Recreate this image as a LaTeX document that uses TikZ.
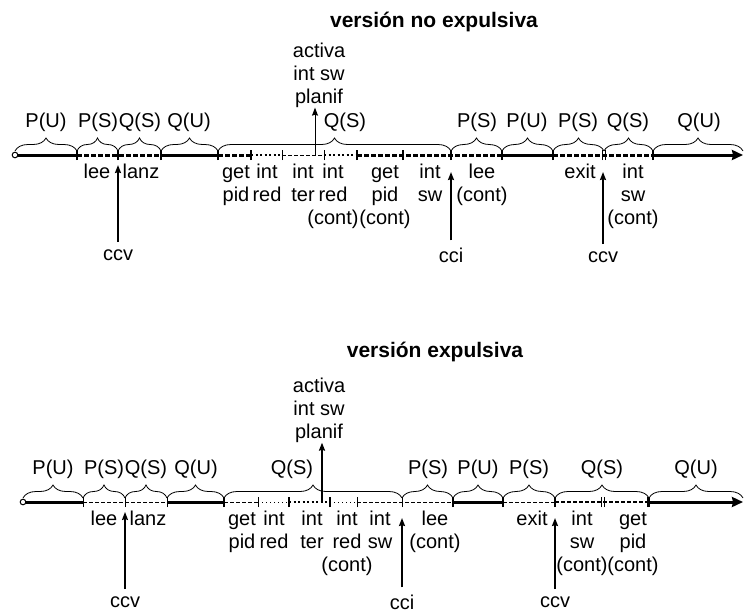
\documentclass[tikz,border=0pt]{standalone}
\usepackage{fontspec}
\setmainfont{Liberation Sans}
\usetikzlibrary{decorations.pathreplacing,arrows.meta}

\begin{document}
\begin{tikzpicture}[x=1pt,y=-1pt,
  lbl/.style={font=\fontsize{20}{23}\selectfont, inner sep=0pt, align=center},
  lowlbl/.style={lbl, anchor=north},
  toplbl/.style={lbl, anchor=base},
  ttl/.style={font=\fontsize{21}{24}\selectfont\bfseries, inner sep=0pt, anchor=base},
  brc/.style={decorate, decoration={brace, amplitude=13pt}, line width=0.8pt},
  solidseg/.style={line width=3pt},
  tdash/.style={line width=3pt, dash pattern=on 5pt off 2pt},
  mdash/.style={line width=1.6pt, dash pattern=on 4pt off 2pt},
  tdot/.style={line width=2.6pt, dash pattern=on 2pt off 2.5pt},
  thindash/.style={line width=0.7pt, dash pattern=on 4pt off 2pt},
  thindot/.style={line width=0.9pt, dash pattern=on 1pt off 3pt},
  tickmark/.style={line width=1.4pt},
  thintick/.style={line width=0.7pt},
  upar/.style={line width=1.8pt, -{Stealth[length=8pt,width=6pt,inset=1pt]}},
  evar/.style={upar, shorten <=7pt},
  endar/.style={line width=3pt, -{Stealth[length=11pt,width=10pt,inset=1pt]}},
]
\useasboundingbox (0,0) rectangle (744,614);

% ---------------- non-preemptive timeline ----------------
\node[ttl] (titleA) at (434,27) {versión no expulsiva};

\foreach \n/\x in {0/15,1/77,2/118,3/161,4/218,5/251,6/282,7/324,8/357,9/403,10/451,11/502,12/553,13/604,14/653,15/743}
  \coordinate (t\n) at (\x,155);

\draw[solidseg] (t0) -- (t1);
\draw[tdash] (t1) -- (t3);
\draw[solidseg] (t3) -- (t4);
\draw[tdash] (t4) -- (t5);
\draw[tdot] (t5) -- (t6);
\draw[thindash] (t6) -- (t7);
\draw[tdot] (t7) -- (t8);
\draw[tdash] (t8) -- (t11);
\draw[solidseg] (t11) -- (t12);
\draw[tdash] (t12) -- (t14);
\draw[endar] (t14) -- (t15);
\draw[line width=1pt, fill=white] (t0) circle (2.8pt);

\foreach \n in {1,2,3,4,5,8,9,10,11,12,14}
  \draw[tickmark] ([yshift=-5pt]t\n) -- ([yshift=5pt]t\n);
\foreach \n in {6,7}
  \draw[thintick] ([yshift=-5pt]t\n) -- ([yshift=5pt]t\n);
\draw[thintick] ([xshift=-1.5pt,yshift=-5pt]t13) -- ([xshift=-1.5pt,yshift=5pt]t13);
\draw[thintick] ([xshift=1.5pt,yshift=-5pt]t13) -- ([xshift=1.5pt,yshift=5pt]t13);

% braces (shifted up from the line) and their labels
\draw[brc] ([yshift=4pt]t0) -- ([yshift=4pt]t1);
\draw[brc] ([yshift=4pt]t1) -- ([yshift=4pt]t2);
\draw[brc] ([yshift=4pt]t2) -- ([yshift=4pt]t3);
\draw[brc] ([yshift=4pt]t3) -- ([yshift=4pt]t4);
\draw[brc] ([yshift=4pt]t4) -- ([yshift=4pt]t10);
\draw[brc] ([yshift=4pt]t10) -- ([yshift=4pt]t11);
\draw[brc] ([yshift=4pt]t11) -- ([yshift=4pt]t12);
\draw[brc] ([yshift=4pt]t12) -- ([yshift=4pt]t13);
\draw[brc] ([yshift=4pt]t13) -- ([yshift=4pt]t14);
\draw[brc] ([yshift=4pt]t14) -- ([yshift=4pt]t15);

\node[toplbl] (aPU1) at (46,127) {P(U)};
\node[toplbl] (aPS1) at (98,127) {P(S)};
\node[toplbl] (aQS1) at (140,127) {Q(S)};
\node[toplbl] (aQU1) at (189,127) {Q(U)};
\node[toplbl] (aQS2) at (345,127) {Q(S)};
\node[toplbl] (aPS2) at (477,127) {P(S)};
\node[toplbl] (aPU2) at (527,127) {P(U)};
\node[toplbl] (aPS3) at (578,127) {P(S)};
\node[toplbl] (aQS3) at (628,127) {Q(S)};
\node[toplbl] (aQU2) at (699,127) {Q(U)};

% labels of the events under the line
\node[lowlbl] (aLee) at (97,162) {\strut lee};
\node[lowlbl] (aLanz) at (141,162) {\strut lanz};
\node[lowlbl] (aGet) at (236,162) {\strut get\\pid};
\node[lowlbl] (aRed) at (267,162) {\strut int\\red};
\node[lowlbl] (aTer) at (303,162) {\strut int\\ter};
\node[lowlbl] (aRedC) at (333,162) {\strut int\\red\\(cont)};
\node[lowlbl] (aGetC) at (385,162) {\strut get\\pid\\(cont)};
\node[lowlbl] (aSw) at (430,162) {\strut int\\sw};
\node[lowlbl] (aLeeC) at (482,162) {\strut lee\\(cont)};
\node[lowlbl] (aExit) at (580,162) {\strut exit};
\node[lowlbl] (aSwC) at (633,162) {\strut int\\sw\\(cont)};

% scheduler activation
\node[lowlbl] (aAct) at (319,41) {\strut activa\\int sw\\planif};
\coordinate (aActBase) at (315,155);
\draw[line width=1pt, -{Stealth[length=8pt,width=6pt,inset=1pt]}] (aActBase) -- (aActBase |- aAct.south);

% external events
\node[toplbl] (aCcv1) at (118,260) {ccv};
\node[toplbl] (aCci) at (451,262) {cci};
\node[toplbl] (aCcv2) at (603,262) {ccv};
\coordinate (aCcv1Tip) at (118,165);
\coordinate (aCciTip) at (451,172);
\coordinate (aCcv2Tip) at (603,172);
\draw[evar] (aCcv1.north) -- (aCcv1Tip);
\draw[evar] (aCci.north) -- (aCciTip);
\draw[evar] (aCcv2.north) -- (aCcv2Tip);

% ---------------- preemptive timeline ----------------
\node[ttl] (titleB) at (435,357) {versión expulsiva};

\foreach \n/\x in {0/23,1/83,2/125,3/167,4/224,5/258,6/289,7/330,8/357,9/402,10/453,11/503,12/555,13/603,14/649,15/743}
  \coordinate (b\n) at (\x,502);

\draw[solidseg] (b0) -- (b1);
\draw[thindash] (b1) -- (b3);
\draw[solidseg] (b3) -- (b4);
\draw[thindash] (b4) -- (b5);
\draw[thindot] (b5) -- (b6);
\draw[tdot] (b6) -- (b7);
\draw[thindot] (b7) -- (b8);
\draw[thindash] (b8) -- (b10);
\draw[solidseg] (b10) -- (b11);
\draw[thindash] (b11) -- (b12);
\draw[mdash] (b12) -- (b14);
\draw[endar] (b14) -- (b15);
\draw[line width=1pt, fill=white] (b0) circle (2.8pt);

\foreach \n in {4,6,7,10,11,12,14}
  \draw[tickmark] ([yshift=-5pt]b\n) -- ([yshift=5pt]b\n);
\foreach \n in {1,2,3,5,8,9}
  \draw[thintick] ([yshift=-5pt]b\n) -- ([yshift=5pt]b\n);
\draw[thintick] ([xshift=-1.5pt,yshift=-5pt]b13) -- ([xshift=-1.5pt,yshift=5pt]b13);
\draw[thintick] ([xshift=1.5pt,yshift=-5pt]b13) -- ([xshift=1.5pt,yshift=5pt]b13);
\draw[thintick] ([xshift=-1.5pt,yshift=-5pt]b14) -- ([xshift=-1.5pt,yshift=5pt]b14);

\draw[brc] ([yshift=4pt]b0) -- ([yshift=4pt]b1);
\draw[brc] ([yshift=4pt]b1) -- ([yshift=4pt]b2);
\draw[brc] ([yshift=4pt]b2) -- ([yshift=4pt]b3);
\draw[brc] ([yshift=4pt]b3) -- ([yshift=4pt]b4);
\draw[brc] ([yshift=4pt]b4) -- ([yshift=4pt]b9);
\draw[brc] ([yshift=4pt]b9) -- ([yshift=4pt]b10);
\draw[brc] ([yshift=4pt]b10) -- ([yshift=4pt]b11);
\draw[brc] ([yshift=4pt]b11) -- ([yshift=4pt]b12);
\draw[brc] ([yshift=4pt]b12) -- ([yshift=4pt]b14);
\draw[brc] ([yshift=4pt]b14) -- ([yshift=4pt]b15);

\node[toplbl] (bPU1) at (53,474) {P(U)};
\node[toplbl] (bPS1) at (104,474) {P(S)};
\node[toplbl] (bQS1) at (146,474) {Q(S)};
\node[toplbl] (bQU1) at (196,474) {Q(U)};
\node[toplbl] (bQS2) at (292,474) {Q(S)};
\node[toplbl] (bPS2) at (428,474) {P(S)};
\node[toplbl] (bPU2) at (478,474) {P(U)};
\node[toplbl] (bPS3) at (529,474) {P(S)};
\node[toplbl] (bQS3) at (602,474) {Q(S)};
\node[toplbl] (bQU2) at (696,474) {Q(U)};

\node[lowlbl] (bLee) at (104,509) {\strut lee};
\node[lowlbl] (bLanz) at (148,509) {\strut lanz};
\node[lowlbl] (bGet) at (242,509) {\strut get\\pid};
\node[lowlbl] (bRed) at (274,509) {\strut int\\red};
\node[lowlbl] (bTer) at (312,509) {\strut int\\ter};
\node[lowlbl] (bRedC) at (347,509) {\strut int\\red\\(cont)};
\node[lowlbl] (bSw) at (380,509) {\strut int\\sw};
\node[lowlbl] (bLeeC) at (435,509) {\strut lee\\(cont)};
\node[lowlbl] (bExit) at (532,509) {\strut exit};
\node[lowlbl] (bSwC) at (582,509) {\strut int\\sw\\(cont)};
\node[lowlbl] (bGetC) at (633,509) {\strut get\\pid\\(cont)};

\node[lowlbl] (bAct) at (319,376) {\strut activa\\int sw\\planif};
\coordinate (bActBase) at (322,502);
\draw[upar] (bActBase) -- (bActBase |- bAct.south);

\node[toplbl] (bCcv1) at (125,607) {ccv};
\node[toplbl] (bCci) at (402,609) {cci};
\node[toplbl] (bCcv2) at (555,607) {ccv};
\coordinate (bCcv1Tip) at (125,512);
\coordinate (bCciTip) at (402,518);
\coordinate (bCcv2Tip) at (555,518);
\draw[evar, line width=1.2pt] (bCcv1.north) -- (bCcv1Tip);
\draw[evar] (bCci.north) -- (bCciTip);
\draw[evar] (bCcv2.north) -- (bCcv2Tip);
\end{tikzpicture}
\end{document}
